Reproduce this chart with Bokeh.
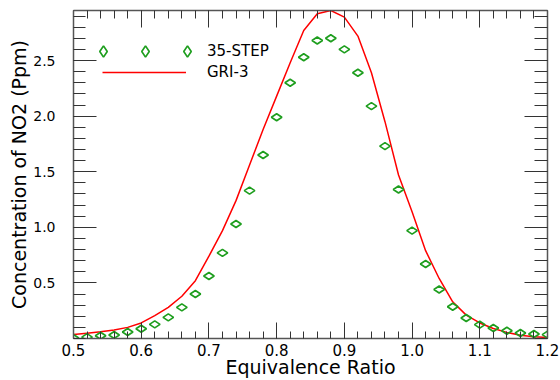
from bokeh.plotting import figure
from bokeh.models import (Range1d, FixedTicker, LinearAxis, Legend, LegendItem,
                          ColumnDataSource, PrintfTickFormatter)
from bokeh.core.properties import value
from bokeh.embed import file_html
from bokeh.resources import INLINE
import math

# ---- data ----
ratio = [0.50, 0.52, 0.54, 0.56, 0.58, 0.60, 0.62, 0.64, 0.66, 0.68, 0.70, 0.72,
         0.74, 0.76, 0.78, 0.80, 0.82, 0.84, 0.86, 0.88, 0.90, 0.92, 0.94, 0.96,
         0.98, 1.00, 1.02, 1.04, 1.06, 1.08, 1.10, 1.12, 1.14, 1.16, 1.18, 1.20]
step35 = [0.005, 0.012, 0.024, 0.032, 0.058, 0.088, 0.127, 0.19, 0.28, 0.40, 0.562, 0.77,
          1.03, 1.33, 1.65, 1.99, 2.30, 2.53, 2.68, 2.70, 2.60, 2.39, 2.09, 1.73,
          1.34, 0.97, 0.67, 0.44, 0.285, 0.185, 0.125, 0.095, 0.07, 0.05, 0.04, 0.035]
gri3 = [0.036, 0.048, 0.06, 0.076, 0.10, 0.14, 0.205, 0.28, 0.38, 0.52, 0.74, 0.97,
        1.24, 1.56, 1.88, 2.18, 2.48, 2.77, 2.92, 2.95, 2.89, 2.72, 2.39, 1.95,
        1.47, 1.14, 0.79, 0.54, 0.33, 0.21, 0.14, 0.09, 0.055, 0.03, 0.015, 0.01]

x_major = [0.5, 0.6, 0.7, 0.8, 0.9, 1.0, 1.1, 1.2]
x_minor = [round(0.5 + 0.02 * i, 2) for i in range(36)]
y_major = [0.5, 1.0, 1.5, 2.0, 2.5]
y_minor = [round(0.1 * i, 1) for i in range(30)]

FONT = "DejaVu Sans"
AXIS_COL = "#555555"
TICK_COL = "#333333"

p = figure(width=560, height=380, output_backend="svg", toolbar_location=None,
           x_range=Range1d(0.5, 1.2), y_range=Range1d(0, 2.95),
           min_border_left=73, min_border_right=13, min_border_top=10, min_border_bottom=40)
p.xgrid.visible = False
p.ygrid.visible = False
p.outline_line_color = None
p.background_fill_color = "white"
p.border_fill_color = "white"

def style(ax, major_in, minor_in, ticks, minors, show_labels, size):
    ax.ticker = FixedTicker(ticks=ticks, minor_ticks=minors)
    ax.major_tick_in = major_in
    ax.major_tick_out = 0
    ax.minor_tick_in = minor_in
    ax.minor_tick_out = 0
    ax.axis_line_color = AXIS_COL
    ax.axis_line_width = 1.5
    ax.major_tick_line_color = TICK_COL
    ax.minor_tick_line_color = TICK_COL
    ax.major_tick_line_width = 1
    ax.minor_tick_line_width = 1
    ax.major_label_text_font = FONT
    ax.major_label_text_color = "black"
    ax.axis_label_text_font = FONT
    ax.axis_label_text_font_style = "normal"
    ax.axis_label_text_color = "black"
    ax.axis_label_text_font_size = "19px"
    if show_labels:
        ax.major_label_text_font_size = size
        ax.formatter = PrintfTickFormatter(format="%.1f")
    else:
        ax.major_label_overrides = {t: "" for t in ticks}
        ax.major_label_text_font_size = "1px"
        ax.major_label_standoff = 0

xb = p.xaxis[0]
style(xb, 16, 7, x_major, x_minor, True, "15px")
xb.axis_label = "Equivalence Ratio"
xb.major_label_standoff = 5
xb.axis_label_standoff = -3

yl = p.yaxis[0]
style(yl, 23, 12, y_major, y_minor, True, "14px")
yl.axis_label = "Concentration of NO2 (Ppm)"
yl.major_label_standoff = 18
yl.axis_label_standoff = 0

xt = LinearAxis()
style(xt, 17, 8, x_major, x_minor, False, "1px")
p.add_layout(xt, "above")
yr = LinearAxis()
style(yr, 23, 13, y_major, y_minor, False, "1px")
p.add_layout(yr, "right")

src = ColumnDataSource(dict(x=ratio, s=step35, g=gri3))
ln = p.line("x", "g", source=src, line_color="#ff0000", line_width=1.5)
sc = p.scatter("x", "s", source=src, marker="diamond", size=10.5, angle=math.pi / 2,
               fill_color=None, line_color="#1e9e1e", line_width=1.7)

leg1 = Legend(items=[LegendItem(label=value(" "), renderers=[sc]),
                     LegendItem(label=value(" "), renderers=[sc]),
                     LegendItem(label=value("35-STEP"), renderers=[sc])],
              orientation="horizontal", location=(16, 273), glyph_width=28, glyph_height=28,
              label_height=28, label_width=5, label_standoff=6, spacing=3, padding=0, margin=0,
              border_line_color=None, background_fill_alpha=0,
              label_text_font=FONT, label_text_font_size="15px", label_text_color="black")
leg2 = Legend(items=[LegendItem(label=value("GRI-3"), renderers=[ln])],
              location=(29, 256), glyph_width=84, glyph_height=20, label_height=20,
              label_standoff=21, padding=0, margin=0,
              border_line_color=None, background_fill_alpha=0,
              label_text_font=FONT, label_text_font_size="15px", label_text_color="black")
p.add_layout(leg1)
p.add_layout(leg2)

open("out.html", "w").write(file_html(p, INLINE))
